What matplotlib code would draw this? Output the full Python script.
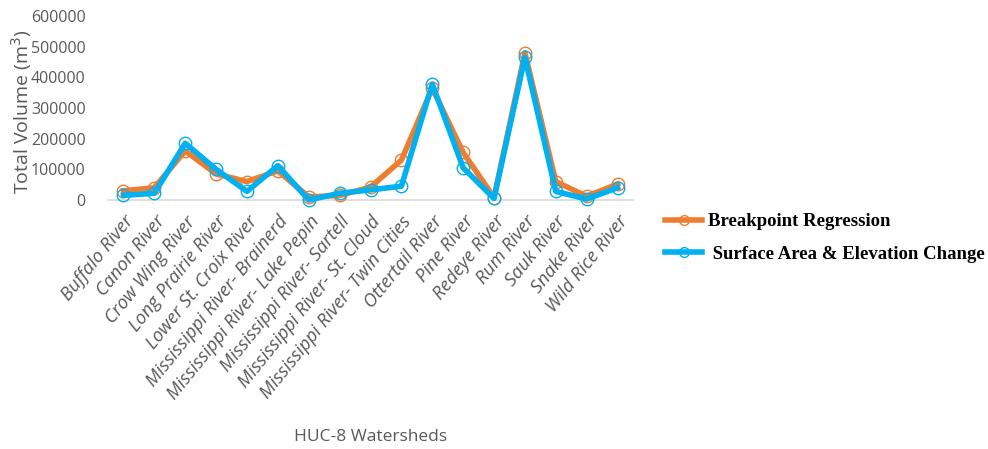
import matplotlib.pyplot as plt
from matplotlib.lines import Line2D

# HUC-8 watersheds and total volume estimates (m^3)
watersheds = [
    "Buffalo River", "Canon River", "Crow Wing River", "Long Prairie River",
    "Lower St. Croix River", "Mississippi River- Brainerd",
    "Mississippi River- Lake Pepin", "Mississippi River- Sartell",
    "Mississippi River- St. Cloud", "Mississippi River- Twin Cities",
    "Ottertail River", "Pine River", "Redeye River", "Rum River",
    "Sauk River", "Snake River", "Wild Rice River",
]
breakpoint_reg = [30000, 40000, 160000, 85000, 60000, 95000, 10000, 15000,
                  42000, 130000, 365000, 155000, 8000, 480000, 60000, 12000, 52000]
surface_elev = [15000, 22000, 185000, 100000, 28000, 112000, 0, 22000,
                33000, 45000, 378000, 105000, 5000, 465000, 28000, 3000, 40000]
yticks = [0, 100000, 200000, 300000, 400000, 500000, 600000]

orange = "#ED7D31"
blue = "#00B0F0"
gray = "#595959"

fig = plt.figure(figsize=(9.88, 4.49), dpi=100)
ax = fig.add_axes([108 / 988, 1 - 200 / 449, 525 / 988, 184 / 449])

x = list(range(len(watersheds)))
ax.plot(x, breakpoint_reg, color=orange, lw=4, marker="o", ms=9,
        mfc="none", mec=orange, mew=1, clip_on=False, zorder=3)
ax.plot(x, surface_elev, color=blue, lw=4, marker="o", ms=9,
        mfc="none", mec=blue, mew=1, clip_on=False, zorder=4)

ax.set_xlim(-0.5, len(watersheds) - 0.5)
ax.set_ylim(0, 600000)
ax.set_yticks(yticks)
ax.set_yticklabels([str(v) for v in yticks], fontsize=11.5, color=gray,
                   fontfamily="Open Sans")
ax.set_xticks(x)
ax.set_xticklabels(watersheds, rotation=51, ha="right", rotation_mode="anchor",
                   fontsize=13.3, color=gray, fontfamily="Open Sans",
                   fontstyle="italic")
ax.tick_params(axis="both", length=0)
ax.tick_params(axis="y", pad=16)
ax.tick_params(axis="x", pad=9)

for side in ["left", "right", "top"]:
    ax.spines[side].set_visible(False)
ax.spines["bottom"].set_color("#D9D9D9")
ax.spines["bottom"].set_linewidth(1.2)

fig.text(22 / 988, 1 - 112 / 449, "Total Volume (m$^3$)", rotation=90,
         ha="center", va="center", fontsize=14, color=gray,
         fontfamily="Open Sans")
fig.text(371 / 988, 1 - 437 / 449, "HUC-8 Watersheds", ha="center",
         va="center", fontsize=12.5, color=gray, fontfamily="Open Sans")

handles = [
    Line2D([], [], color=orange, lw=4, marker="o", ms=7, mfc="none", mec=orange),
    Line2D([], [], color=blue, lw=4, marker="o", ms=7, mfc="none", mec=blue),
]
fig.legend(handles, ["Breakpoint Regression", " Surface Area & Elevation Change"],
           loc="center left", bbox_to_anchor=(648 / 988, 1 - 238 / 449),
           frameon=False, handlelength=2.0, handletextpad=0.3, labelspacing=0.8,
           prop={"family": "Liberation Serif", "weight": "bold", "size": 13.5})

fig.savefig("out.png", dpi=100)
